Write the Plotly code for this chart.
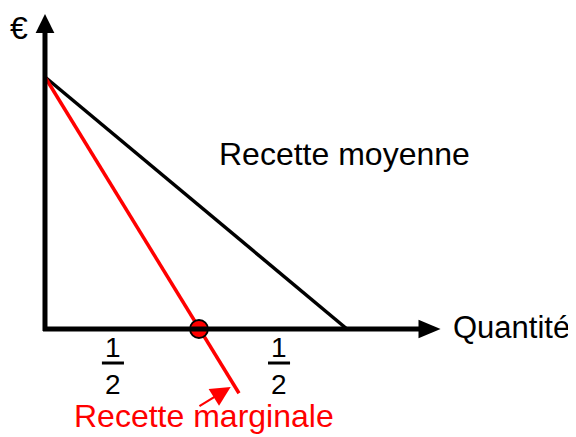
import plotly.graph_objects as go

# ---- data (quantity on x, euros on y) ----
avg_rev_q = [0.0, 2.0]          # Recette moyenne
avg_rev_p = [10.0, 0.0]
marg_rev_q = [0.0, 1.285]       # Recette marginale
marg_rev_p = [10.0, -2.55]
mr_zero_q = [1.02]              # point where marginal revenue = 0
mr_zero_p = [0.0]
half_positions = [0.45, 1.55]   # positions of the "1/2" labels
x_axis_end = 2.62
y_axis_end = 12.5

FONT = "Liberation Sans, Arial, sans-serif"

fig = go.Figure()

fig.add_trace(go.Scatter(x=avg_rev_q, y=avg_rev_p, mode="lines",
                         line=dict(color="black", width=3.5), hoverinfo="skip"))
fig.add_trace(go.Scatter(x=marg_rev_q, y=marg_rev_p, mode="lines",
                         line=dict(color="#ff0000", width=3.5), hoverinfo="skip"))
fig.add_trace(go.Scatter(x=mr_zero_q, y=mr_zero_p, mode="markers",
                         marker=dict(color="#ff0000", size=18,
                                     line=dict(color="black", width=1.8)),
                         hoverinfo="skip"))

shapes = []
# axes lines
shapes.append(dict(type="line", x0=0, y0=-0.08, x1=0, y1=y_axis_end - 0.75,
                   line=dict(color="black", width=5)))
shapes.append(dict(type="line", x0=-0.013, y0=0, x1=x_axis_end - 0.14, y1=0,
                   line=dict(color="black", width=5)))
# arrowheads
shapes.append(dict(type="path",
                   path=f"M 0 {y_axis_end} L -0.062 {y_axis_end-0.75} L 0.062 {y_axis_end-0.75} Z",
                   fillcolor="black", line=dict(width=0)))
shapes.append(dict(type="path",
                   path=f"M {x_axis_end} 0 L {x_axis_end-0.146} 0.37 L {x_axis_end-0.146} -0.37 Z",
                   fillcolor="black", line=dict(width=0)))
# fraction bars
for q in half_positions:
    shapes.append(dict(type="line", x0=q - 0.073, x1=q + 0.073, y0=-1.35, y1=-1.35,
                       line=dict(color="black", width=3)))

annotations = []
for q in half_positions:
    annotations.append(dict(x=q, y=-0.75, text="1", showarrow=False,
                            font=dict(family=FONT, size=28, color="black"),
                            xanchor="center", yanchor="middle"))
    annotations.append(dict(x=q, y=-2.2, text="2", showarrow=False,
                            font=dict(family=FONT, size=28, color="black"),
                            xanchor="center", yanchor="middle"))

annotations.append(dict(x=-0.245, y=11.95, text="€", showarrow=False,
                        font=dict(family=FONT, size=32, color="black"),
                        xanchor="left", yanchor="middle"))
annotations.append(dict(x=1.14, y=6.95, text="Recette moyenne", showarrow=False,
                        font=dict(family=FONT, size=32, color="black"),
                        xanchor="left", yanchor="middle"))
annotations.append(dict(x=2.69, y=0.05, text="Quantité", showarrow=False,
                        font=dict(family=FONT, size=31, color="black"),
                        xanchor="left", yanchor="middle"))
annotations.append(dict(x=0.18, y=-3.45, text="Recette marginale", showarrow=False,
                        font=dict(family=FONT, size=32, color="#ff0000"),
                        xanchor="left", yanchor="middle"))
# pointer arrow to marginal revenue line
annotations.append(dict(x=1.23, y=-2.3, ax=1.013, ay=-3.1, xref="x", yref="y",
                        axref="x", ayref="y", text="", showarrow=True,
                        arrowhead=2, arrowsize=1.8, arrowwidth=2.2,
                        arrowcolor="#ff0000"))

# the page body adds an 8px offset, so the figure covers reference pixels 8..576 / 8..437
fig.update_layout(
    width=568, height=429,
    margin=dict(l=0, r=0, t=0, b=0),
    paper_bgcolor="white", plot_bgcolor="white",
    showlegend=False,
    xaxis=dict(range=[-0.245, 3.517], visible=False, fixedrange=True),
    yaxis=dict(range=[-4.286, 12.738], visible=False, fixedrange=True),
    shapes=shapes,
    annotations=annotations,
)

fig.write_html("out.html")
